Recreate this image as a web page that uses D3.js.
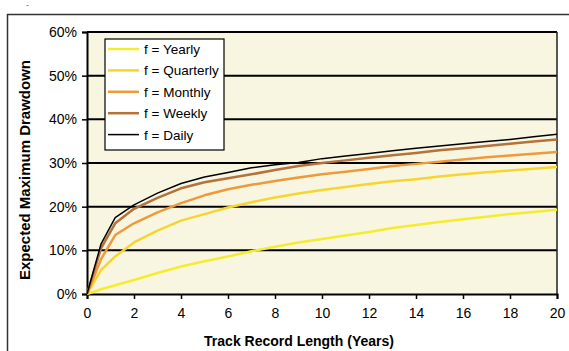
<!DOCTYPE html>
<html>
<head>
<meta charset="utf-8">
<script src="https://cdn.jsdelivr.net/npm/d3@7"></script>
<style>
  body { margin: 0; background: #fff; }
  svg text { font-family: "Liberation Sans", Arial, sans-serif; }
</style>
</head>
<body>
<svg id="chart" width="569" height="351"></svg>
<script>
// Track record length in years (shared x values)
const years = [0, 0.6, 1.2, 2, 3, 4, 5, 6, 7, 8, 9, 10, 11, 12, 13, 14, 15, 16, 17, 18, 19, 20];

// Expected maximum drawdown (%) per sampling frequency
const yearly    = [0, 1.1, 2.0, 3.2, 4.8, 6.3, 7.5, 8.6, 9.8, 10.8, 11.8, 12.6, 13.4, 14.2, 15.1, 15.8, 16.5, 17.1, 17.7, 18.3, 18.8, 19.3];
const quarterly = [0, 5.5, 8.6, 11.8, 14.5, 16.8, 18.3, 19.8, 21.0, 22.1, 23.0, 23.8, 24.5, 25.2, 25.8, 26.3, 26.9, 27.4, 27.9, 28.3, 28.7, 29.1];
const monthly   = [0, 8.0, 13.5, 16.2, 18.7, 20.8, 22.6, 24.0, 25.0, 25.9, 26.7, 27.4, 28.0, 28.6, 29.3, 29.8, 30.3, 30.8, 31.3, 31.7, 32.1, 32.5];
const weekly    = [0, 10.5, 16.2, 19.5, 22.0, 24.2, 25.6, 26.5, 27.4, 28.4, 29.3, 30.0, 30.6, 31.2, 31.8, 32.3, 32.9, 33.4, 33.9, 34.4, 34.9, 35.4];
const daily     = [0, 11.5, 17.5, 20.4, 23.1, 25.3, 26.8, 27.8, 28.9, 29.6, 30.1, 31.0, 31.6, 32.2, 32.8, 33.4, 33.9, 34.4, 34.9, 35.4, 36.0, 36.6];

const seriesNames = ["f = Yearly", "f = Quarterly", "f = Monthly", "f = Weekly", "f = Daily"];
const seriesValues = [yearly, quarterly, monthly, weekly, daily];
const seriesColors = ["#f5ec2e", "#f7d52f", "#ee9a3a", "#b5723a", "#000000"];
const seriesWidths = [2.5, 2.5, 2.5, 2.5, 1.5];

const xTicks = d3.range(0, 21, 2);
const yTicks = [0, 10, 20, 30, 40, 50, 60];

const svg = d3.select("#chart");

// outer frame
svg.append("path")
    .attr("d", "M7.5,351 V14.5 H569")
    .attr("fill", "none")
    .attr("stroke", "#333")
    .attr("stroke-width", 1.5);
svg.append("text")
    .attr("x", 26).attr("y", 8)
    .attr("font-size", 9).attr("fill", "#666")
    .text("-");

const margin = { top: 32, right: 12, bottom: 57, left: 87 },
    width = 569 - margin.left - margin.right,
    height = 351 - margin.top - margin.bottom;

const g = svg.append("g")
    .attr("transform", `translate(${margin.left}, ${margin.top})`);

const x = d3.scaleLinear().domain([0, 20]).range([0, width]);
const y = d3.scaleLinear().domain([0, 60]).range([height, 0]);

// plot background
g.append("rect")
    .attr("width", width)
    .attr("height", height)
    .attr("fill", "#f8f6e1");

// gridlines
g.selectAll(".grid")
    .data(yTicks.slice(1))
    .enter()
    .append("line")
    .attr("x1", 0).attr("x2", width)
    .attr("y1", d => y(d)).attr("y2", d => y(d))
    .attr("stroke", "#000")
    .attr("stroke-width", 2);

// right border
g.append("line")
    .attr("x1", width).attr("x2", width)
    .attr("y1", 0).attr("y2", height)
    .attr("stroke", "#222")
    .attr("stroke-width", 1.5);

// axes
const xAxis = g.append("g")
    .attr("transform", `translate(0, ${height})`)
    .call(d3.axisBottom(x).tickValues(xTicks).tickSize(5).tickPadding(9));
const yAxis = g.append("g")
    .call(d3.axisLeft(y).tickValues(yTicks).tickSize(5).tickPadding(5).tickFormat(d => d + "%"));

[xAxis, yAxis].forEach(a => {
    a.select(".domain").attr("stroke", "#000").attr("stroke-width", 2);
    a.selectAll(".tick line").attr("stroke", "#000").attr("stroke-width", 1.5);
    a.selectAll(".tick text")
        .attr("font-family", "Liberation Sans, Arial, sans-serif")
        .attr("font-size", 14)
        .attr("fill", "#000");
});

// lines
const line = d3.line()
    .x((d, i) => x(years[i]))
    .y(d => y(d));

g.selectAll(".series")
    .data(seriesValues)
    .enter()
    .append("path")
    .attr("fill", "none")
    .attr("stroke", (d, i) => seriesColors[i])
    .attr("stroke-width", (d, i) => seriesWidths[i])
    .attr("stroke-linejoin", "round")
    .attr("d", line);

// axis titles
svg.append("text")
    .attr("x", 299).attr("y", 346)
    .attr("text-anchor", "middle")
    .attr("font-size", 14).attr("font-weight", "bold")
    .text("Track Record Length (Years)");
svg.append("text")
    .attr("transform", "translate(30, 170) rotate(-90)")
    .attr("text-anchor", "middle")
    .attr("font-size", 15).attr("font-weight", "bold")
    .text("Expected Maximum Drawdown");

// legend
const legend = svg.append("g").attr("transform", "translate(105, 39)");
legend.append("rect")
    .attr("width", 119).attr("height", 111)
    .attr("fill", "#fff")
    .attr("stroke", "#000")
    .attr("stroke-width", 1.2);
const items = legend.selectAll(".item")
    .data(seriesNames)
    .enter()
    .append("g")
    .attr("transform", (d, i) => `translate(0, ${10 + i * 21.4})`);
items.append("line")
    .attr("x1", 3).attr("x2", 34)
    .attr("stroke", (d, i) => seriesColors[i])
    .attr("stroke-width", (d, i) => i < 4 ? 2.5 : 1.5);
items.append("text")
    .attr("x", 39).attr("y", 5)
    .attr("font-size", 13.5)
    .text(d => d);
</script>
</body>
</html>
